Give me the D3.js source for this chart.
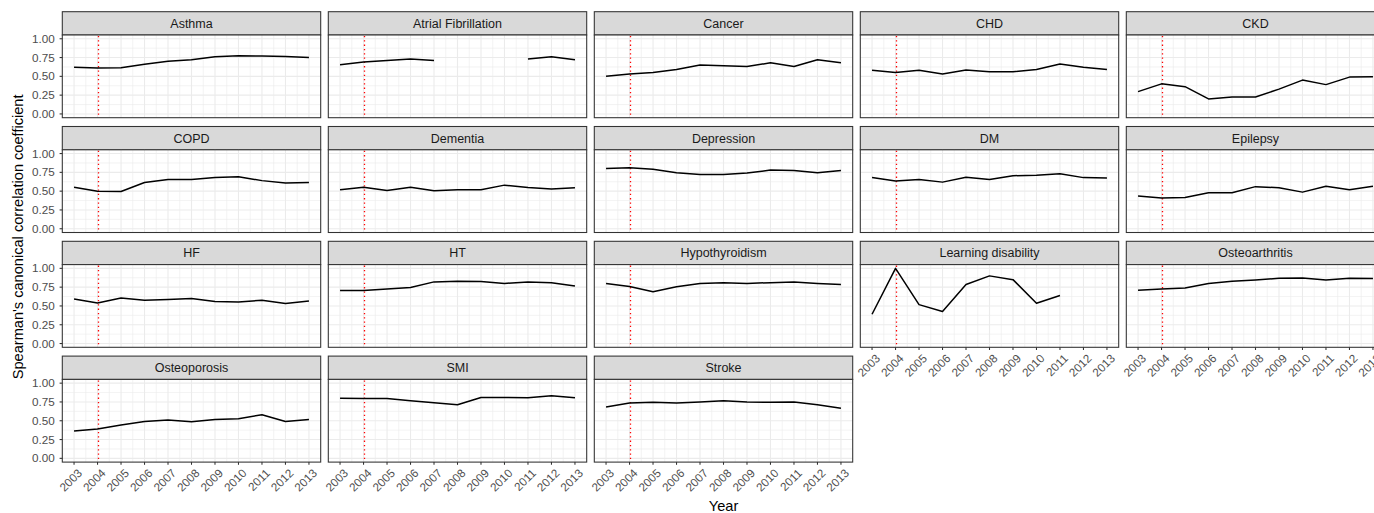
<!DOCTYPE html>
<html>
<head>
<meta charset="utf-8">
<script src="https://cdn.jsdelivr.net/npm/d3@7"></script>
<style>
body{margin:0;background:#fff;overflow:hidden;}
svg{display:block;font-family:"Liberation Sans",Arial,Helvetica,sans-serif;}
</style>
</head>
<body>
<svg id=chart></svg>
<script>
// years on the x axis, 2004 marked with the red dotted line
var years=[2003,2004,2005,2006,2007,2008,2009,2010,2011,2012,2013];
var marker_year=2004;
var y_ticks=[0,0.25,0.5,0.75,1];

var conditions=["Asthma","Atrial Fibrillation","Cancer","CHD","CKD",
    "COPD","Dementia","Depression","DM","Epilepsy",
    "HF","HT","Hypothyroidism","Learning disability","Osteoarthritis",
    "Osteoporosis","SMI","Stroke"];

var asthma=[0.62,0.61,0.615,0.66,0.70,0.72,0.76,0.775,0.77,0.765,0.75];
var atrial_fib=[0.655,0.69,0.71,0.73,0.71,null,null,null,0.73,0.76,0.72];
var cancer=[0.50,0.53,0.55,0.59,0.65,0.64,0.63,0.68,0.63,0.72,0.68];
var chd=[0.58,0.55,0.58,0.53,0.585,0.56,0.56,0.59,0.665,0.62,0.59];
var ckd=[0.297,0.40,0.363,0.20,0.225,0.225,0.33,0.45,0.39,0.49,0.495];
var copd=[0.553,0.50,0.495,0.615,0.655,0.655,0.68,0.69,0.64,0.61,0.615];
var dementia=[0.52,0.553,0.51,0.553,0.505,0.52,0.52,0.58,0.55,0.527,0.545];
var depression=[0.80,0.81,0.79,0.745,0.72,0.72,0.74,0.78,0.775,0.745,0.775];
var dm=[0.68,0.635,0.655,0.62,0.686,0.655,0.705,0.713,0.73,0.68,0.675];
var epilepsy=[0.435,0.41,0.415,0.48,0.48,0.56,0.545,0.487,0.565,0.52,0.565];
var hf=[0.593,0.54,0.606,0.576,0.585,0.598,0.558,0.553,0.576,0.532,0.567];
var ht=[0.705,0.705,0.725,0.745,0.82,0.83,0.824,0.80,0.82,0.81,0.766];
var hypothyroidism=[0.80,0.758,0.69,0.755,0.80,0.81,0.80,0.81,0.82,0.80,0.785];
var learning_disability=[0.39,1.0,0.518,0.425,0.785,0.90,0.85,0.535,0.64,null,null];
var osteoarthritis=[0.709,0.727,0.74,0.80,0.83,0.846,0.868,0.872,0.846,0.868,0.865];
var osteoporosis=[0.363,0.39,0.443,0.49,0.51,0.487,0.515,0.527,0.58,0.49,0.515];
var smi=[0.80,0.795,0.795,0.766,0.74,0.713,0.81,0.81,0.805,0.832,0.805];
var stroke=[0.682,0.735,0.745,0.735,0.75,0.766,0.75,0.745,0.75,0.713,0.665];

var series=[asthma,atrial_fib,cancer,chd,ckd,copd,dementia,depression,dm,epilepsy,
    hf,ht,hypothyroidism,learning_disability,osteoarthritis,osteoporosis,smi,stroke];

var W=1374, H=513;
var ncol=5, nrow=4;
var left0=62.3, col_pitch=266, panel_w=258.4;
var top0=11.7, row_pitch=114.8, strip_h=23.3, panel_h=82.7;

var svg=d3.select('#chart').attr('width',W).attr('height',H);

var xscale=d3.scaleLinear().domain([2002.5,2013.5]).range([0,panel_w]);
var yscale=d3.scaleLinear().domain([-0.05,1.05]).range([panel_h,0]);

var x_minor=d3.range(2003.5,2013,1);
var y_minor=[0.125,0.375,0.625,0.875];

var line=d3.line()
    .defined(function(d) {return d.v!=null;})
    .x(function(d) {return xscale(d.year);})
    .y(function(d) {return yscale(d.v);});

conditions.forEach(function(name,i) {
    var col=i%ncol, row=Math.floor(i/ncol);
    var px=left0+col*col_pitch;
    var py=top0+row*row_pitch;

    // strip
    var gs=svg.append('g').attr('transform','translate('+px+','+py+')');
    gs.append('rect').attr('x',0).attr('y',0).attr('width',panel_w).attr('height',strip_h)
        .attr('fill','#D9D9D9').attr('stroke','#333333').attr('stroke-width',1.07);
    gs.append('text').attr('x',panel_w/2).attr('y',strip_h/2).attr('dy','0.35em')
        .attr('text-anchor','middle').attr('font-size','12.5px').attr('fill','#1A1A1A')
        .text(name);

    var gg=svg.append('g').attr('transform','translate('+px+','+(py+strip_h)+')');
    gg.append('rect').attr('width',panel_w).attr('height',panel_h).attr('fill','#fff');

    // minor grid
    gg.selectAll('.xminor').data(x_minor).enter().append('line')
        .attr('x1',function(d){return xscale(d);}).attr('x2',function(d){return xscale(d);})
        .attr('y1',0).attr('y2',panel_h).attr('stroke','#EBEBEB').attr('stroke-width',0.6);
    gg.selectAll('.yminor').data(y_minor).enter().append('line')
        .attr('y1',function(d){return yscale(d);}).attr('y2',function(d){return yscale(d);})
        .attr('x1',0).attr('x2',panel_w).attr('stroke','#EBEBEB').attr('stroke-width',0.6);
    // major grid
    gg.selectAll('.xmajor').data(years).enter().append('line')
        .attr('x1',function(d){return xscale(d);}).attr('x2',function(d){return xscale(d);})
        .attr('y1',0).attr('y2',panel_h).attr('stroke','#EBEBEB').attr('stroke-width',1.1);
    gg.selectAll('.ymajor').data(y_ticks).enter().append('line')
        .attr('y1',function(d){return yscale(d);}).attr('y2',function(d){return yscale(d);})
        .attr('x1',0).attr('x2',panel_w).attr('stroke','#EBEBEB').attr('stroke-width',1.1);

    // 2004 marker, snapped to the pixel grid so the dots stay bright red
    var mx=Math.round(px+xscale(marker_year))+0.5-px;
    gg.append('line')
        .attr('x1',mx).attr('x2',mx)
        .attr('y1',1).attr('y2',panel_h)
        .attr('stroke','#FF0000').attr('stroke-width',1.3).attr('stroke-dasharray','1.3,3');

    var data=years.map(function(y,k) {return {year:y,v:series[i][k]};});
    gg.append('path').attr('d',line(data))
        .attr('fill','none').attr('stroke','#000').attr('stroke-width',1.5)
        .attr('stroke-linejoin','round');

    gg.append('rect').attr('width',panel_w).attr('height',panel_h)
        .attr('fill','none').attr('stroke','#333333').attr('stroke-width',1.07);

    // y axis on first column
    if (col==0) {
        var ya=gg.append('g');
        y_ticks.forEach(function(t) {
            ya.append('line').attr('x1',-2.7).attr('x2',0)
                .attr('y1',yscale(t)).attr('y2',yscale(t))
                .attr('stroke','#333333').attr('stroke-width',1.07);
            ya.append('text').attr('x',-7.5).attr('y',yscale(t)).attr('dy','0.35em')
                .attr('text-anchor','end').attr('font-size','11.7px').attr('fill','#4D4D4D')
                .text(d3.format('.2f')(t));
        });
    }
    // x axis on the bottom panel of each column
    var last_in_col=(i+ncol>=conditions.length);
    if (last_in_col) {
        var xa=gg.append('g').attr('transform','translate(0,'+panel_h+')');
        years.forEach(function(y) {
            xa.append('line').attr('x1',xscale(y)).attr('x2',xscale(y))
                .attr('y1',0).attr('y2',2.7).attr('stroke','#333333').attr('stroke-width',1.07);
            xa.append('text')
                .attr('transform','translate('+(xscale(y)+3)+','+6+') rotate(-45)')
                .attr('dy','0.7em')
                .attr('text-anchor','end').attr('font-size','11.7px').attr('fill','#4D4D4D')
                .text(y);
        });
    }
});

// axis titles
svg.append('text')
    .attr('x',left0+((ncol-1)*col_pitch+panel_w)/2).attr('y',H-2)
    .attr('text-anchor','middle').attr('font-size','14.6px').attr('fill','#000')
    .text('Year');
svg.append('text')
    .attr('transform','translate(23,'+(top0+((nrow-1)*row_pitch+strip_h+panel_h)/2)+') rotate(-90)')
    .attr('text-anchor','middle').attr('font-size','14.6px').attr('fill','#000')
    .text("Spearman's canonical correlation coefficient");
</script>
</body>
</html>
